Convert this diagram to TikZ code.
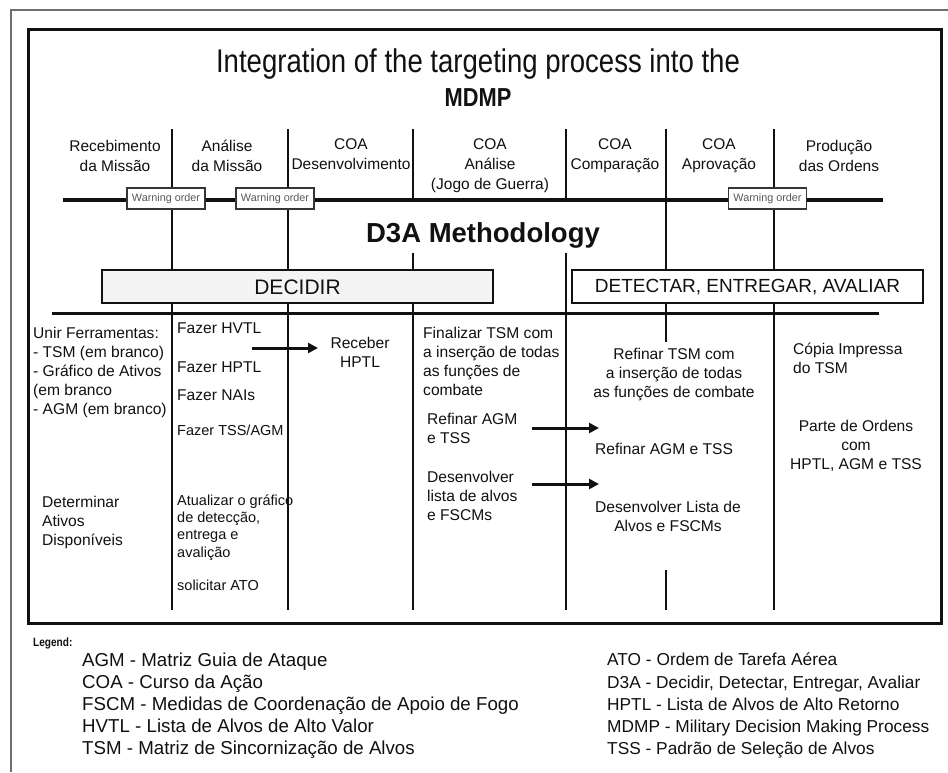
\documentclass[tikz,border=0pt]{standalone}
\usepackage{fontspec}
\setmainfont{Liberation Sans}
\newfontfamily\narrowsans{Liberation Sans}[FakeStretch=0.84]
\usetikzlibrary{arrows.meta}

\definecolor{ink}{HTML}{111111}
\definecolor{framegray}{HTML}{6E6E6E}
\definecolor{boxfill}{HTML}{F4F4F4}

% multi-line nodes below are anchored at the baseline of their last line
\tikzset{
  rule/.style={line width=2.4pt, draw=ink},
  timeline/.style={line width=4.5pt, draw=ink},
  divider/.style={line width=3pt, draw=ink},
  phasebox/.style={draw=ink, line width=2.6pt, fill=white},
  warnbox/.style={draw=ink!85, line width=1.8pt, fill=white, inner sep=0pt,
    minimum width=78pt, minimum height=21pt,
    font=\fontsize{10.8}{12}\selectfont, text=ink!70},
  header/.style={font=\fontsize{15.5}{20}\selectfont, text=ink, inner sep=0pt,
    align=center, anchor=base},
  bodyl/.style={font=\fontsize{15.6}{19}\selectfont, text=ink, inner sep=0pt,
    align=left, anchor=base west},
  bodyc/.style={font=\fontsize{15.6}{19}\selectfont, text=ink, inner sep=0pt,
    align=center, anchor=base},
  small/.style={font=\fontsize{14.5}{17.3}\selectfont},
  legendl/.style={font=\fontsize{18.7}{21}\selectfont, text=ink, inner sep=0pt,
    anchor=base west},
  legendr/.style={font=\fontsize{17.3}{21}\selectfont, text=ink, inner sep=0pt,
    anchor=base west},
  flow/.style={line width=3pt, draw=ink, -{Triangle[length=10pt,width=10pt]}},
}

\begin{document}
\begin{tikzpicture}[x=1pt, y=-1pt]
\useasboundingbox (0,0) rectangle (948,772);
\fill[white] (0,0) rectangle (948,772);

% page frame and inner frame
\draw[framegray, line width=2.6pt] (11,772) -- (11,10) -- (948,10);
\draw[ink, line width=3pt] (28,29) rectangle (941,623);

% title
\node[font=\narrowsans\fontsize{32.8}{36}\selectfont, text=ink, anchor=base] (title) at (478,72)
  {Integration of the targeting process into the};
\node[font=\narrowsans\bfseries\fontsize{26}{30}\selectfont, text=ink, anchor=base] (mdmp) at (478,106) {MDMP};

% phase dividers
\draw[rule] (172,129) -- (172,610);
\draw[rule] (288,129) -- (288,610);
\draw[rule] (413,129) -- (413,200);
\draw[rule] (413,253) -- (413,610);
\draw[rule] (566,129) -- (566,200);
\draw[rule] (566,253) -- (566,610);
\draw[rule] (666,129) -- (666,272);
\draw[rule] (666,302) -- (666,342);
\draw[rule] (666,570) -- (666,610);
\draw[rule] (774,129) -- (774,610);

% MDMP time line and the lower separator
\draw[timeline] (63,200) -- (883,200);
\draw[divider] (52,313) -- (879,313);

% warning orders
\node[warnbox] (wo1) at (166,198.5) {Warning order};
\node[warnbox] (wo2) at (275,198.5) {Warning order};
\node[warnbox] (wo3) at (767.5,198.5) {Warning order};

% phase headings
\node[header] (h1) at (115,171) {Recebimento\\da Missão};
\node[header] (h2) at (227,171) {Análise\\da Missão};
\node[header] (h3) at (351,169) {COA\\Desenvolvimento};
\node[header] (h4) at (490,189) {COA\\Análise\\(Jogo de Guerra)};
\node[header] (h5) at (615,169) {COA\\Comparação};
\node[header] (h6) at (719,169) {COA\\Aprovação};
\node[header] (h7) at (839,171) {Produção\\das Ordens};

% D3A
\node[font=\bfseries\fontsize{27.5}{32}\selectfont, text=ink, anchor=base] (d3a) at (483,242) {D3A Methodology};
\draw[phasebox, fill=boxfill] (102,270) rectangle (493,303);
\node[font=\fontsize{21}{24}\selectfont, text=ink] (decidir) at (297.5,287) {DECIDIR};
\draw[phasebox] (572,270) rectangle (923,303);
\node[font=\fontsize{19}{24}\selectfont, text=ink] (dea) at (747.5,287) {DETECTAR, ENTREGAR, AVALIAR};

% tasks
\node[bodyl] (t1) at (33,414) {Unir Ferramentas:\\- TSM (em branco)\\- Gráfico de Ativos\\(em branco\\- AGM (em branco)};
\node[bodyl] (t2) at (42,545) {Determinar\\Ativos\\Disponíveis};

\node[bodyl] (t3) at (177,333) {Fazer HVTL};
\node[bodyl] (t4) at (177,372) {Fazer HPTL};
\node[bodyl] (t5) at (177,400) {Fazer NAIs};
\node[bodyl, small] (t6) at (177,435) {Fazer TSS/AGM};
\node[bodyl, small] (t7) at (177,557) {Atualizar o gráfico\\de detecção,\\entrega e\\avalição};
\node[bodyl, small] (t8) at (177,590) {solicitar ATO};

\node[bodyc] (t9) at (360,367) {Receber\\HPTL};

\node[bodyl] (t10) at (423,395) {Finalizar TSM com\\a inserção de todas\\as funções de\\combate};
\node[bodyl] (t11) at (427,443) {Refinar AGM\\e TSS};
\node[bodyl] (t12) at (427,520) {Desenvolver\\lista de alvos\\e FSCMs};

\node[bodyc] (t13) at (674,397) {Refinar TSM com\\a inserção de todas\\as funções de combate};
\node[bodyl] (t14) at (595,454) {Refinar AGM e TSS};
\node[bodyc] (t15) at (668,531) {Desenvolver Lista de\\Alvos e FSCMs};

\node[bodyl] (t16) at (793,373) {Cópia Impressa\\do TSM};
\node[bodyc] (t17) at (856,469) {Parte de Ordens\\com\\HPTL, AGM e TSS};

% hand-over arrows
\coordinate (a1s) at (252,348);
\coordinate (a1e) at (318,348);
\coordinate (a2s) at (532,428);
\coordinate (a2e) at (599,428);
\coordinate (a3s) at (532,484);
\coordinate (a3e) at (599,484);
\draw[flow] (a1s) -- (a1e);
\draw[flow] (a2s) -- (a2e);
\draw[flow] (a3s) -- (a3e);

% legend
\node[font=\bfseries\narrowsans\fontsize{12}{14}\selectfont, text=ink, inner sep=0pt, anchor=base west] (leg) at (33,646) {Legend:};
\node[legendl] (l1) at (82,666) {AGM - Matriz Guia de Ataque};
\node[legendl] (l2) at (82,688) {COA - Curso da Ação};
\node[legendl] (l3) at (82,710) {FSCM - Medidas de Coordenação de Apoio de Fogo};
\node[legendl] (l4) at (82,732) {HVTL - Lista de Alvos de Alto Valor};
\node[legendl] (l5) at (82,754) {TSM - Matriz de Sincornização de Alvos};
\node[legendr] (r1) at (607,665) {ATO - Ordem de Tarefa Aérea};
\node[legendr] (r2) at (607,688) {D3A - Decidir, Detectar, Entregar, Avaliar};
\node[legendr] (r3) at (607,710) {HPTL - Lista de Alvos de Alto Retorno};
\node[legendr] (r4) at (607,732) {MDMP - Military Decision Making Process};
\node[legendr] (r5) at (607,754) {TSS - Padrão de Seleção de Alvos};
\end{tikzpicture}
\end{document}
